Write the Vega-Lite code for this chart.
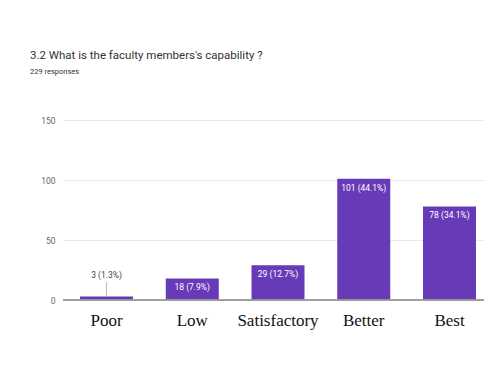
{
  "$schema": "https://vega.github.io/schema/vega-lite/v6.json",
  "width": 421,
  "height": 180,
  "autosize": {"type": "none"},
  "padding": {"left": 63, "top": 120, "right": 1, "bottom": 79},
  "background": "white",
  "title": {
    "text": "3.2 What is the faculty members's capability ?",
    "subtitle": "229 responses",
    "anchor": "start",
    "frame": "group",
    "dx": -33,
    "offset": 41,
    "font": "Liberation Sans Narrow, Roboto, sans-serif",
    "fontSize": 11.5,
    "fontWeight": "normal",
    "color": "#333333",
    "subtitleFont": "Liberation Sans Narrow, Roboto, sans-serif",
    "subtitleFontSize": 7.5,
    "subtitleColor": "#333333",
    "subtitlePadding": 6
  },
  "data": {
    "values": [
      {"rating": "Poor", "count": 3, "label": "3 (1.3%)"},
      {"rating": "Low", "count": 18, "label": "18 (7.9%)"},
      {"rating": "Satisfactory", "count": 29, "label": "29 (12.7%)"},
      {"rating": "Better", "count": 101, "label": "101 (44.1%)"},
      {"rating": "Best", "count": 78, "label": "78 (34.1%)"}
    ]
  },
  "encoding": {
    "x": {
      "field": "rating",
      "type": "nominal",
      "sort": null,
      "scale": {"paddingInner": 0.382, "paddingOuter": 0.146, "align": 0.68},
      "axis": {
        "title": null,
        "labelAngle": 0,
        "labelFont": "Liberation Serif, Times New Roman, serif",
        "labelFontSize": 17,
        "labelColor": "#111111",
        "labelPadding": 12,
        "ticks": false,
        "domain": false
      }
    },
    "y": {
      "field": "count",
      "type": "quantitative",
      "scale": {"domain": [0, 150]},
      "axis": {
        "title": null,
        "values": [0, 50, 100, 150],
        "labelFont": "Liberation Sans Narrow, Roboto, sans-serif",
        "labelFontSize": 8.5,
        "labelColor": "#666666",
        "labelPadding": 8,
        "ticks": false,
        "domain": false,
        "gridColor": "#e8e8e8"
      }
    }
  },
  "layer": [
    {"mark": {"type": "bar", "color": "#673ab7"}},
    {
      "mark": {"type": "rule", "color": "#999999", "strokeWidth": 0.8},
      "encoding": {"y": {"datum": 0}, "x": null}
    },
    {
      "transform": [{"filter": "datum.count < 10"}],
      "mark": {"type": "rule", "color": "#aaaaaa", "strokeWidth": 0.8},
      "encoding": {"y2": {"datum": 15}}
    },
    {
      "transform": [{"filter": "datum.count < 10"}],
      "mark": {"type": "text", "dy": -21, "font": "Liberation Sans Narrow, Roboto, sans-serif", "fontSize": 8.5, "color": "#444444"},
      "encoding": {"text": {"field": "label"}}
    },
    {
      "transform": [{"filter": "datum.count >= 10"}],
      "mark": {"type": "text", "dy": 9, "font": "Liberation Sans Narrow, Roboto, sans-serif", "fontSize": 8.5, "color": "white"},
      "encoding": {"text": {"field": "label"}}
    }
  ],
  "config": {"view": {"stroke": null}}
}
